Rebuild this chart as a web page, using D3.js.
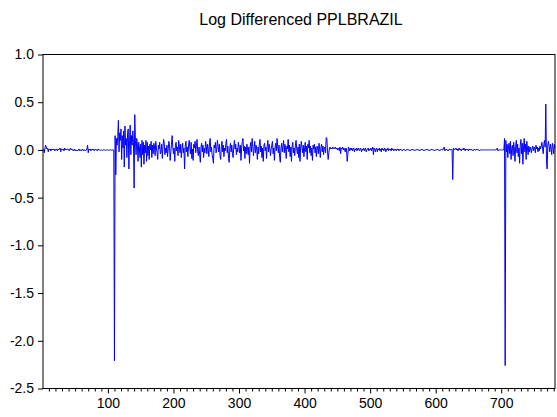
<!DOCTYPE html>
<html>
<head>
<meta charset="utf-8">
<script src="https://cdn.jsdelivr.net/npm/d3@7"></script>
<style>
  html, body { margin: 0; padding: 0; background: #fff; }
  svg { display: block; }
  text { font-family: "Liberation Sans", Arial, sans-serif; fill: #000; }
</style>
</head>
<body>
<svg id="chart" width="557" height="417"></svg>
<script>
const title = "Log Differenced PPLBRAZIL";
const firstObs = 2;
const obsDomain = [1, 782];
const yTicks = [1.0, 0.5, 0.0, -0.5, -1.0, -1.5, -2.0, -2.5];
const xMajorTicks = [100, 200, 300, 400, 500, 600, 700];

// obs 2..109
const calmEarly = [0.01,-0.03,0.02,0.05,0.03,0.01,0.02,-0.02,0.01,0.00,
 0.01,-0.01,0.01,0.00,0.01,0.00,0.01,-0.01,0.00,0.01,
 0.00,-0.01,0.01,0.00,0.01,0.02,-0.02,0.01,0.01,0.00,
 0.01,-0.01,0.02,0.00,0.01,0.00,0.01,0.01,0.00,-0.01,
 0.01,0.02,0.00,0.01,0.00,-0.01,0.00,0.01,-0.01,0.00,
 -0.01,0.00,-0.01,0.00,0.01,-0.01,0.00,0.00,-0.01,0.01,
 0.00,-0.01,0.00,0.00,-0.01,0.00,0.01,0.05,-0.03,0.01,
 0.00,0.01,-0.01,0.00,0.01,0.00,0.01,-0.01,0.00,0.01,
 0.00,0.00,-0.01,0.01,0.00,0.00,
 0.00,-0.005,0.00,0.00,-0.005,0.00,0.00,0.00,-0.005,0.00,
 0.00,0.00,0.00,-0.005,0.00,0.00,0.00,0.00,-0.005,0.00,0.00,0.00];

// obs 110..170
const crisisEarly = [-2.21,0.15,-0.26,0.12,0.05,0.14,0.31,-0.02,0.18,0.10,
 0.22,-0.10,0.15,0.02,0.20,-0.18,0.25,0.05,0.12,-0.08,
 0.18,0.22,-0.20,0.10,0.26,-0.05,0.15,0.05,0.20,0.08,
 -0.40,0.37,0.10,-0.05,0.12,0.05,-0.12,0.08,0.02,-0.08,
 0.06,-0.18,0.10,-0.05,0.08,-0.15,0.05,-0.03,0.10,-0.12,
 0.08,-0.06,0.04,-0.10,0.06,0.00,0.09,-0.08,0.05,-0.04,0.07];

// obs 171..440
const volatileMid = [0.04,-0.06,0.09,0.02,-0.03,-0.10,0.05,0.01,0.08,-0.04,
 -0.02,0.06,-0.09,0.03,0.11,0.07,-0.05,0.02,-0.03,0.05,
 -0.07,0.01,0.09,0.04,-0.11,-0.02,0.06,0.15,0.03,-0.04,
 0.02,-0.12,0.05,0.08,-0.01,0.03,-0.06,0.10,0.04,-0.03,
 0.06,-0.08,0.01,0.07,-0.03,0.02,-0.20,0.04,0.09,-0.02,
 0.03,-0.07,0.05,0.10,0.02,-0.04,0.08,-0.09,0.01,-0.11,
 0.06,0.02,0.09,-0.03,0.04,0.11,-0.02,-0.06,0.03,-0.05,
 -0.13,0.03,0.07,-0.02,0.05,-0.08,0.02,-0.03,0.09,0.04,
 -0.04,0.06,0.01,-0.07,0.08,0.12,-0.02,0.03,-0.05,-0.09,
 -0.14,0.05,0.02,0.08,-0.03,0.01,0.10,0.04,-0.02,0.06,
 -0.06,-0.10,0.03,0.09,-0.02,0.05,-0.07,0.02,-0.01,0.07,
 0.11,-0.03,0.04,-0.09,-0.13,0.02,0.07,-0.02,0.05,-0.04,
 -0.08,0.03,0.10,0.01,0.06,-0.05,0.02,-0.02,0.08,0.03,
 -0.03,0.05,-0.11,0.02,0.09,0.12,-0.01,0.04,-0.09,0.03,
 -0.04,0.06,0.01,-0.05,0.03,-0.14,0.04,0.08,-0.02,0.12,
 0.04,-0.06,0.02,0.09,-0.03,0.05,0.01,-0.10,0.03,-0.04,
 0.06,0.11,-0.02,0.04,-0.08,0.02,-0.12,0.05,0.07,-0.01,
 0.03,-0.09,0.04,0.10,-0.02,0.06,0.02,-0.06,0.01,0.05,
 0.09,-0.04,0.02,-0.11,0.03,0.07,-0.01,0.12,0.04,-0.03,
 0.05,-0.08,-0.13,0.02,0.07,-0.02,0.04,0.10,-0.03,0.06,
 0.02,-0.09,0.04,0.01,0.11,-0.02,0.05,-0.07,0.03,-0.12,
 0.04,0.08,-0.03,0.02,-0.06,0.05,0.10,0.01,-0.04,0.03,
 -0.08,0.06,-0.12,0.02,0.09,0.03,-0.03,0.05,-0.07,0.01,
 0.08,-0.02,0.04,-0.10,0.06,0.02,0.10,-0.03,0.04,-0.06,
 0.02,-0.11,0.05,0.01,0.06,-0.03,0.03,-0.07,0.04,0.02,
 -0.04,0.07,0.01,-0.08,0.03,0.06,-0.02,0.04,-0.05,0.02,
 0.03,-0.03,0.13,0.12,-0.02,-0.10,-0.03,0.02,0.03,0.01];

// obs 441..705
const calmLate = [0.02,0.01,0.03,0.02,0.01,0.02,0.03,0.01,0.02,0.00,
 0.02,0.01,-0.01,0.03,-0.04,0.02,0.01,0.03,0.00,0.02,
 0.01,-0.02,0.02,0.01,-0.12,-0.05,0.03,0.01,-0.01,0.02,
 0.00,0.02,-0.01,0.01,0.02,-0.02,0.01,0.00,0.02,-0.01,
 0.01,0.02,0.00,-0.01,0.02,0.01,-0.02,0.01,0.00,0.02,
 -0.01,0.01,0.02,-0.02,0.00,0.01,0.02,-0.01,0.01,0.00,
 0.02,-0.01,0.01,0.03,-0.05,0.02,0.01,-0.02,0.01,0.02,
 -0.02,0.01,0.00,0.02,-0.01,0.01,-0.02,0.02,0.00,0.01,
 -0.01,0.02,0.01,-0.02,0.01,0.00,0.02,-0.01,0.01,0.00,
 0.01,-0.01,0.02,0.00,0.01,-0.01,0.00,0.01,0.00,-0.01,
 0.01,0.00,0.01,-0.01,0.00,0.01,0.00,0.00,-0.01,0.00,
 0.01,0.00,0.00,-0.01,0.00,0.00,0.01,0.00,0.00,0.00,
 -0.01,0.00,0.00,0.01,0.00,0.00,0.00,-0.01,0.00,0.00,
 0.00,0.01,0.00,0.00,-0.01,0.00,0.00,0.00,0.01,0.00,
 0.00,-0.01,0.00,0.00,0.00,0.00,0.01,0.00,0.00,-0.01,
 0.00,0.00,0.00,0.01,0.00,0.00,0.00,-0.01,0.00,0.00,
 0.00,0.00,0.01,0.00,0.00,-0.01,0.00,0.00,0.01,0.00,
 0.00,0.02,0.03,-0.01,0.00,0.01,0.00,0.00,-0.01,0.00,
 0.01,0.00,0.00,0.01,0.00,-0.31,0.02,0.01,0.00,0.01,
 0.02,0.00,0.01,-0.01,0.01,0.02,0.00,0.01,-0.01,0.01,
 0.01,0.00,0.02,0.01,-0.01,0.01,0.00,0.01,0.00,-0.01,
 0.01,0.00,0.00,0.01,0.00,0.00,-0.01,0.00,0.01,0.00,
 0.00,0.00,0.01,0.00,0.00,0.00,-0.01,0.00,0.00,0.00,
 0.00,0.00,0.00,0.00,0.00,0.00,0.00,0.00,0.00,0.00,
 0.00,0.00,0.00,0.00,0.00,0.00,0.00,0.00,0.00,0.00,
 0.00,0.00,0.01,0.02,-0.01,0.00,0.00,0.00,0.00,0.00,
 0.00,0.00,0.00,0.00,0.12];

// obs 706..782
const crisisLate = [-2.26,
 0.10,-0.02,0.06,-0.08,0.03,0.07,-0.04,0.09,-0.10,0.02,
 0.05,-0.06,0.08,0.01,-0.12,0.04,0.10,-0.03,0.06,-0.07,
 0.02,-0.14,0.05,0.11,-0.04,0.07,-0.15,0.03,0.12,-0.02,
 0.06,-0.10,0.09,0.02,-0.05,0.04,-0.02,0.03,0.01,-0.03,
 0.02,0.04,-0.01,0.03,0.02,-0.03,0.05,0.01,0.03,-0.02,
 0.02,-0.01,0.04,0.01,0.04,0.08,0.02,-0.04,0.06,0.10,0.03,
 0.48,-0.12,-0.20,
 0.05,0.09,0.04,-0.02,0.06,0.02,-0.05,0.07,0.03,-0.04,0.06,0.02];

const values = [].concat(calmEarly, crisisEarly, volatileMid, calmLate, crisisLate);
const data = values.map((v, i) => ({ obs: firstObs + i, v }));

const svg = d3.select("#chart");
const L = 43, R = 555, T = 54.5, B = 388.5;

const x = d3.scaleLinear().domain(obsDomain).range([L, R]);
const y = d3.scaleLinear().domain([-2.5, 1.0]).range([B, T]);

// title
svg.append("text")
  .attr("x", 301).attr("y", 25)
  .attr("text-anchor", "middle")
  .style("font-size", "16px")
  .text(title);

// line
const line = d3.line().x(d => x(d.obs)).y(d => y(d.v));
svg.append("path")
  .datum(data)
  .attr("fill", "none")
  .attr("stroke", "#0000ff")
  .attr("stroke-width", 1)
  .attr("stroke-linejoin", "miter")
  .attr("d", line);

// frame
svg.append("rect")
  .attr("x", L).attr("y", T)
  .attr("width", R - L).attr("height", B - T)
  .attr("fill", "none").attr("stroke", "#000").attr("stroke-width", 1);

// y axis
const yAxis = d3.axisLeft(y).tickValues(yTicks).tickSize(5).tickPadding(4)
  .tickFormat(d => d.toFixed(1));
const gy = svg.append("g").attr("transform", `translate(${L},0)`).call(yAxis);
gy.select(".domain").remove();
gy.selectAll("text").style("font-size", "14px").style("font-family", '"Liberation Sans", Arial, sans-serif');

// x axis minor ticks
const minor = d3.range(10, 781, 10).filter(d => d % 100 !== 0);
const xMinor = d3.axisBottom(x).tickValues(minor).tickSize(3).tickFormat("");
const gxm = svg.append("g").attr("transform", `translate(0,${B})`).call(xMinor);
gxm.select(".domain").remove();

// x axis major ticks
const xAxis = d3.axisBottom(x).tickValues(xMajorTicks).tickSize(5).tickPadding(5)
  .tickFormat(d3.format("d"));
const gx = svg.append("g").attr("transform", `translate(0,${B})`).call(xAxis);
gx.select(".domain").remove();
gx.selectAll("text").style("font-size", "14px").style("font-family", '"Liberation Sans", Arial, sans-serif');
</script>
</body>
</html>
